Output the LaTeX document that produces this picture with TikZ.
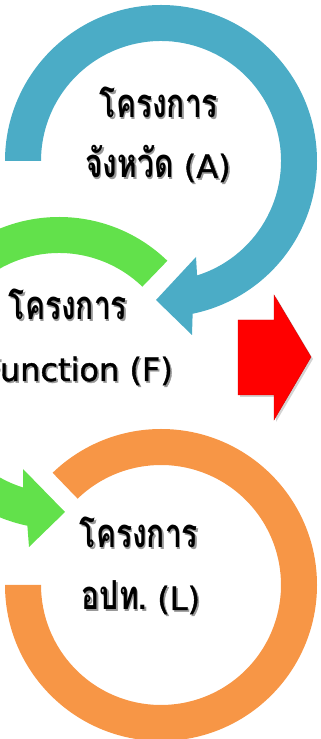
\documentclass[tikz,border=0pt]{standalone}
\usepackage{fontspec}
\newfontfamily\thaifont[Script=Thai]{Loma}
\newfontfamily\latfont[FakeBold=1.2]{DejaVu Sans}
\usetikzlibrary{shadows,calc}
\definecolor{ringA}{HTML}{4BACC6}
\definecolor{ringF}{HTML}{62E14B}
\definecolor{ringL}{HTML}{F79646}
\newcommand{\thx}[1]{{\thaifont\bfseries\fontsize{40}{44}\selectfont\scalebox{0.75}[1]{#1}}}
\newcommand{\ltx}[1]{{\latfont\fontsize{32}{36}\selectfont #1}}
\tikzset{
  lbl/.style={inner sep=0pt},
}
\newcommand{\stxt}[4]{%
  \node[lbl,anchor=#3,text=black!40,xshift=1.6pt,yshift=-1.6pt] (#1s) at #2 {#4};
  \node[lbl,anchor=#3] (#1) at #2 {#4};}
\begin{document}
\begin{tikzpicture}[x=1pt,y=1pt]
\useasboundingbox (0,0) rectangle (321,739);
\clip (0,0) rectangle (321,739);
% blue ring A, center (161,578)
\coordinate (cA) at (161,578);
\fill[ringA] ($(cA)+(180:156)$) arc[start angle=180,end angle=-78.3,radius=156]
  -- (192,404) -- (156,439) -- (196,482)
  -- ($(cA)+(-72.5:120)$) arc[start angle=-72.5,end angle=180,radius=120] -- cycle;
% green ring F, center (59,366)
\coordinate (cF) at (59,366);
\fill[ringF] ($(cF)+(46:156)$) arc[start angle=46,end angle=258.3,radius=156]
  -- (29,192) -- (65,227) -- (23,270)
  -- ($(cF)+(252.6:120)$) arc[start angle=252.6,end angle=46,radius=120] -- cycle;
% orange ring L, center (161,154)
\coordinate (cL) at (161,154);
\fill[ringL] ($(cL)+(180:156)$) arc[start angle=180,end angle=494,radius=156]
  -- ($(cL)+(494:120)$) arc[start angle=494,end angle=180,radius=120] -- cycle;
% red arrow
\fill[red, draw=red!85!black, line width=0.4pt,
  drop shadow={shadow xshift=2pt,shadow yshift=-2pt,opacity=0.35}]
  (238,419) -- (274,419) -- (274,444) -- (311,382) -- (274,319) -- (274,344) -- (238,344) -- cycle;
% texts
\stxt{a1}{(159,621)}{base}{\thx{โครงการ}}
\stxt{a2}{(158,561)}{base}{\thx{จังหวัด}\ltx{~(A)}}
\stxt{f1}{(68,419)}{base}{\thx{โครงการ}}
\stxt{f2}{(173,358)}{base east}{\ltx{Function (F)}}
\stxt{l1}{(139,191)}{base}{\thx{โครงการ}}
\stxt{l2}{(141,129)}{base}{\thx{อปท.}\ltx{~(L)}}
\end{tikzpicture}
\end{document}
